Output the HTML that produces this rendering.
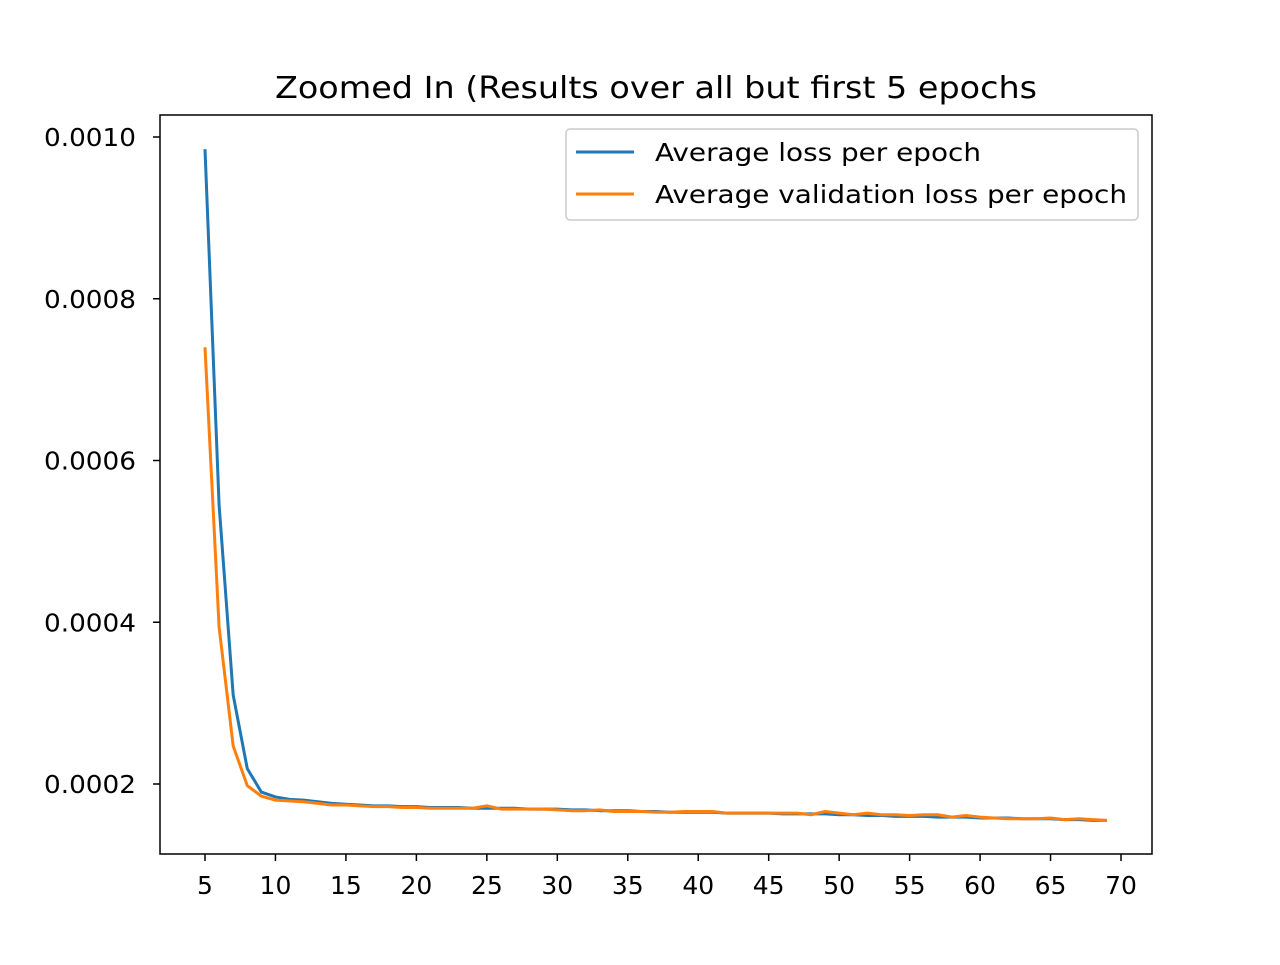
<!DOCTYPE html>
<html><head><meta charset="utf-8"><style>
body{margin:0;background:#fff}
svg text{font-family:"DejaVu Sans","Liberation Sans",sans-serif;fill:#000}
</style></head><body>
<svg id="chart" width="1280" height="960" xmlns="http://www.w3.org/2000/svg">
<rect width="1280" height="960" fill="#fff"/>
<text x="275" y="98" font-size="30" textLength="762" lengthAdjust="spacingAndGlyphs">Zoomed In (Results over all but first 5 epochs</text>
<g id="plot"></g>
<rect x="160" y="115" width="992" height="739" fill="none" stroke="#000" stroke-width="1.5"/>
<g>
<rect x="566" y="129" width="572" height="91" rx="4" fill="#fff" fill-opacity="0.8" stroke="#ccc" stroke-width="1.5"/>
<line x1="576" y1="152" x2="634" y2="152" stroke="#1f77b4" stroke-width="3"/>
<text x="655" y="161" font-size="25" textLength="326" lengthAdjust="spacingAndGlyphs">Average loss per epoch</text>
<line x1="576" y1="194" x2="634" y2="194" stroke="#ff7f0e" stroke-width="3"/>
<text x="655" y="203" font-size="25" textLength="472" lengthAdjust="spacingAndGlyphs">Average validation loss per epoch</text>
</g>
</svg>
<script>
const epochs=[];for(let e=5;e<=69;e++)epochs.push(e);
const trainLoss=[.000985,.000545,.00031,.000219,.00019,.000184,.000181,.00018,.000178,.000176,.000175,.000174,.000173,.000173,.000172,.000172,.000171,.000171,.000171,.00017,.00017,.00017,.00017,.000169,.000169,.000169,.000168,.000168,.000167,.000167,.000167,.000166,.000166,.000165,.000165,.000165,.000165,.000164,.000164,.000164,.000164,.000163,.000163,.000163,.000163,.000162,.000162,.000161,.000161,.00016,.00016,.00016,.000159,.000159,.000159,.000158,.000158,.000158,.000157,.000157,.000157,.000156,.000156,.000155,.000155];
const valLoss=[.00074,.000394,.000247,.000198,.000185,.00018,.000179,.000178,.000176,.000174,.000174,.000173,.000172,.000172,.000171,.000171,.00017,.00017,.00017,.00017,.000173,.000169,.000169,.000169,.000169,.000168,.000167,.000167,.000168,.000166,.000166,.000166,.000165,.000165,.000166,.000166,.000166,.000164,.000164,.000164,.000164,.000164,.000164,.000162,.000166,.000164,.000162,.000164,.000162,.000162,.000161,.000162,.000162,.000159,.000161,.000159,.000158,.000157,.000157,.000157,.000158,.000156,.000157,.000156,.000155];
const xTicks=[5,10,15,20,25,30,35,40,45,50,55,60,65,70];
const yTicks=[0.0002,0.0004,0.0006,0.0008,0.0010];
const yTickLabels=["0.0002","0.0004","0.0006","0.0008","0.0010"];
const NS="http://www.w3.org/2000/svg";
const sx=v=>205+(v-5)*(1121-205)/65;
const sy=v=>784-(v-0.0002)*(784-137)/0.0008;
const g=document.getElementById('plot');
function el(t,a){const e=document.createElementNS(NS,t);for(const k in a)e.setAttribute(k,a[k]);g.appendChild(e);return e;}
xTicks.forEach(t=>{
 const l=el('line',{x1:sx(t),x2:sx(t),y1:854,y2:861,stroke:'#000','stroke-width':1.5});
 
 
 const tx=el('text',{x:sx(t),y:894,'font-size':25,'text-anchor':'middle'});tx.textContent=t;
 
 
});
yTicks.forEach((t,i)=>{
 const l=el('line',{x1:153,x2:160,y1:sy(t),y2:sy(t),stroke:'#000','stroke-width':1.5});
 
 
 const tx=el('text',{x:44,y:sy(t)+9,'font-size':25,textLength:92,lengthAdjust:'spacingAndGlyphs'});tx.textContent=yTickLabels[i];
 
 
});
function line(vals,color,name){
 const p=el('polyline',{points:vals.map((v,i)=>sx(epochs[i])+','+sy(v)).join(' '),fill:'none',stroke:color,'stroke-width':3,'stroke-linejoin':'round'});
 
 
}
line(trainLoss,'#1f77b4','train-loss-line');
line(valLoss,'#ff7f0e','validation-loss-line');
</script>
</body></html>
